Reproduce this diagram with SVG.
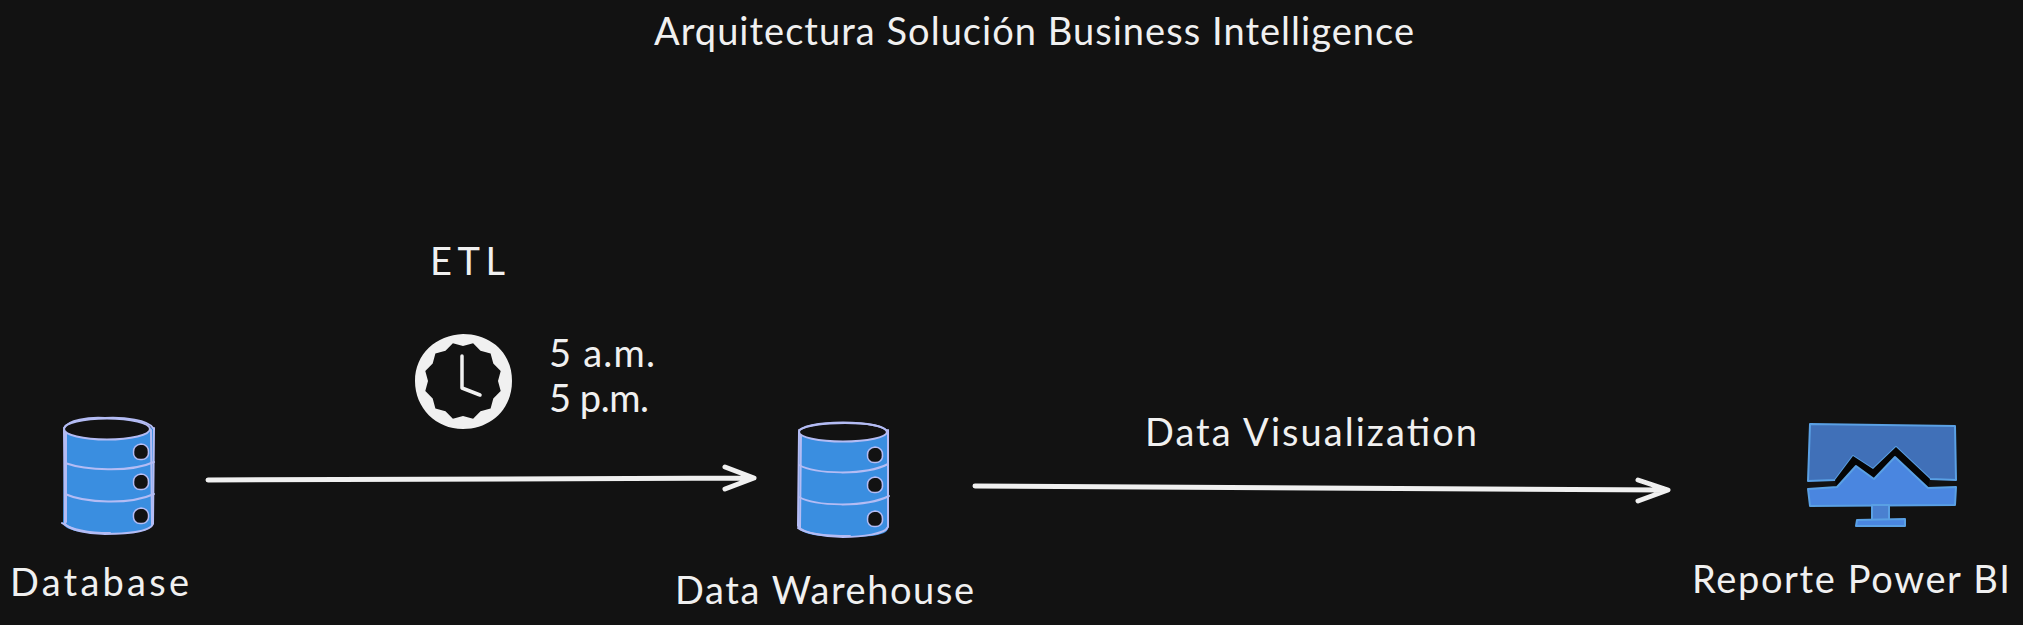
<svg xmlns="http://www.w3.org/2000/svg" width="2023" height="625" viewBox="0 0 2023 625">
<style>
.t{font-family:"Lato","Open Sans","Liberation Sans",sans-serif;font-size:38px;fill:#f0f0f0}
.cf{fill:#3a8ee0}
.cs{fill:none;stroke:#b4bcf4;stroke-width:2;stroke-linecap:round;stroke-linejoin:round}
.hole{fill:#121212;stroke:#b4bcf4;stroke-width:1.5;stroke-linejoin:round}
.top{fill:#121212;stroke:#b4bcf4;stroke-width:2}
.conn{fill:none;stroke:#f0f0f0;stroke-width:5;stroke-linecap:round;stroke-linejoin:round}
.hand{fill:none;stroke:#f0f0f0;stroke-width:3.5;stroke-linecap:round;stroke-linejoin:round}
.m1{fill:#4070b8;stroke:#5aa0e4;stroke-width:2;stroke-linejoin:round}
.m2{fill:#4a86e0;stroke:#5aa0e4;stroke-width:2;stroke-linejoin:round}
</style>
<defs>
<path id="blob" d="M0 -8 C5 -8 8 -4 7.5 0 C8 5 4 8 0 7.5 C-5 8 -8 4 -7.5 0 C-8 -4 -5 -7.5 0 -8 Z"/>
</defs>
<rect width="2023" height="625" fill="#121212"/>
<g id="title"><text class="t" x="654" y="45" textLength="760" lengthAdjust="spacing">Arquitectura Solución Business Intelligence</text></g>
<g id="database">
<path class="cf" d="M64 430 C64 420 152 420 154 430 L153 523 C153 534 120 534 105 534 C85 534 63 530 63 523 Z"/>
<path class="cs" d="M64 430 L65 524 C70 530 88 534 105 534 C125 534 150 532 153 524 L154 428"/>
<path class="cs" d="M66 431 L66 522 M151 430 L152 524 M62 523 C72 530 90 533 110 533"/>
<ellipse class="top" cx="107" cy="429" rx="43" ry="10.5"/>
<path class="cs" d="M64 428 C68 420 88 417 105 418 C125 417 148 420 153 428"/>
<path class="cs" d="M65 463 C85 470 130 473 154 462 M65 494 C85 503 130 505 154 494"/>
<use href="#blob" class="hole" x="141" y="452"/>
<use href="#blob" class="hole" x="141" y="482"/>
<use href="#blob" class="hole" x="141" y="516"/>
<text class="t" x="10" y="596" textLength="179" lengthAdjust="spacing">Database</text>
</g>
<g id="warehouse">
<path class="cf" d="M799 432 C799 420 887 420 888 432 L888 528 C888 537 860 537 843 537 C825 537 798 535 798 526 Z"/>
<path class="cs" d="M799 432 L798 526 C802 533 825 537 843 537 C862 537 885 534 888 527 L888 430"/>
<path class="cs" d="M801 433 L800 528 M798 528 C806 534 825 536 850 536"/>
<ellipse class="top" cx="843" cy="432" rx="44" ry="9.5"/>
<path class="cs" d="M799 430 C808 425 825 423 845 423 C865 423 882 425 887 431"/>
<path class="cs" d="M799 465 C815 474 865 476 888 464 M799 497 C815 506 865 508 889 496"/>
<use href="#blob" class="hole" x="875" y="455"/>
<use href="#blob" class="hole" x="875" y="485"/>
<use href="#blob" class="hole" x="875" y="519"/>
<text class="t" x="675" y="604" textLength="299" lengthAdjust="spacing">Data Warehouse</text>
</g>
<g id="report">
<path class="m1" d="M1810 424 L1955 426 L1956 480 L1930 479 L1896 447 L1873 469 L1853 456 L1835 480 L1808 481 Z"/>
<path d="M1835 480 L1853 456 L1873 469 L1896 447 L1930 479 L1928 488 L1895 457 L1874 479 L1856 466 L1837 487 Z" fill="#050505"/>
<path class="m2" d="M1808 489 L1837 487 L1856 466 L1874 479 L1895 457 L1928 488 L1956 487 L1955 505 L1810 506 Z"/>
<path class="m1" style="fill:#4a80d0" d="M1872 505 L1889 505 L1889 520 L1872 520 Z"/>
<path class="m2" d="M1857 520 L1905 519 L1905 526 L1856 526 Z"/>
<text class="t" x="1692" y="593" textLength="318" lengthAdjust="spacing">Reporte Power BI</text>
</g>
<g id="etl">
<text class="t" x="430" y="275" textLength="75" lengthAdjust="spacing">ETL</text>
<path fill="#f0f0f0" fill-rule="evenodd" d="M463 334 C490 334 512 352 512 381 C512 410 490 429 463 429 C436 429 415 408 415 381 C415 354 436 335 463 334 Z M498 381 L500.7 391.1 L493.3 398.5 L490.6 408.6 L480.5 411.3 L473.1 418.7 L463 416 L452.9 418.7 L445.5 411.3 L435.4 408.6 L432.7 398.5 L425.3 391.1 L428 381 L425.3 370.9 L432.7 363.5 L435.4 353.4 L445.5 350.7 L452.9 343.3 L463 346 L473.1 343.3 L480.5 350.7 L490.6 353.4 L493.3 363.5 L500.7 370.9 Z"/>
<path class="hand" d="M462 356 L462 388 L480 395"/>
<text class="t" x="549" y="367" textLength="106" lengthAdjust="spacing">5 a.m.</text>
<text class="t" x="549" y="412" textLength="100" lengthAdjust="spacing">5 p.m.</text>
</g>
<g id="viz-label"><text class="t" x="1145" y="446" textLength="332" lengthAdjust="spacing">Data Visualization</text></g>
<g id="connectors">
<path class="conn" d="M208 480 L753 478 M725 467 L754 478 L725 489"/>
<path class="conn" d="M975 486 L1667 490 M1638 480 L1668 490 L1638 501"/>
</g>
</svg>
